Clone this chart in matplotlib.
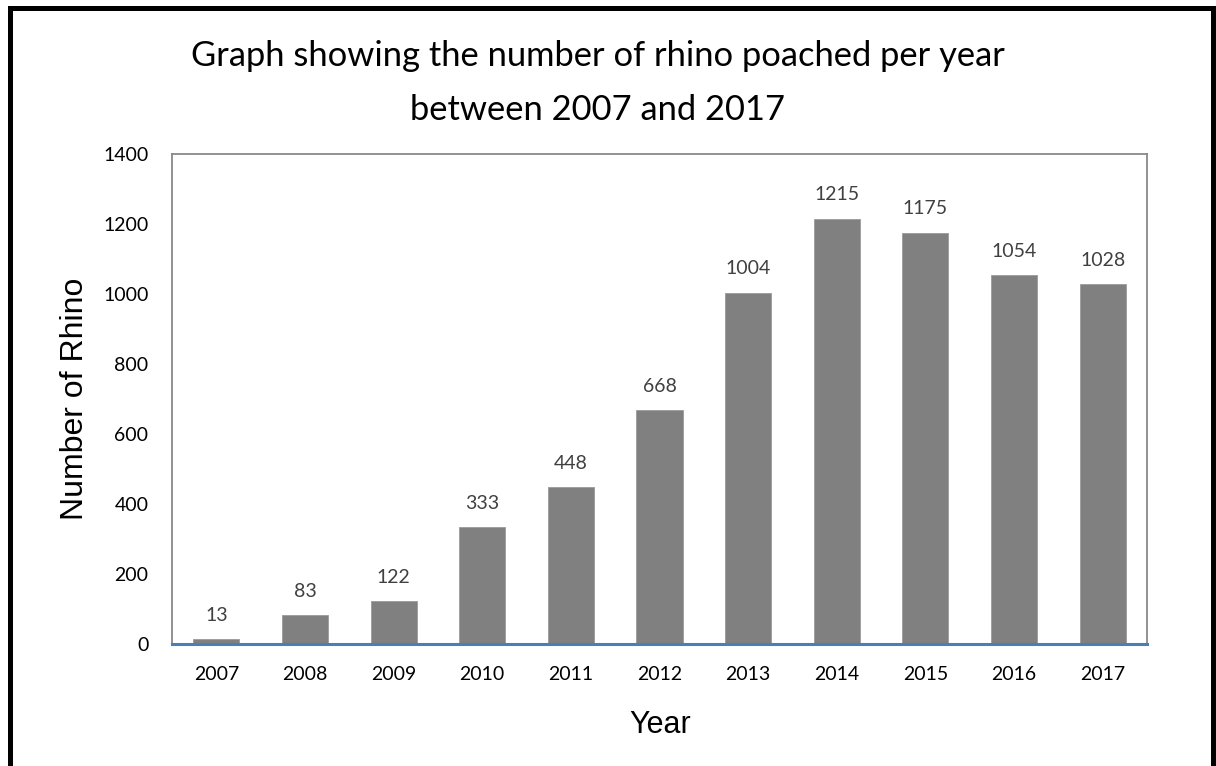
import numpy as np
from matplotlib import pyplot as plt
from matplotlib.lines import Line2D

years = ['2007', '2008', '2009', '2010', '2011', '2012', '2013', '2014', '2015', '2016', '2017']
poached = [13, 83, 122, 333, 448, 668, 1004, 1215, 1175, 1054, 1028]
yticks = [0, 200, 400, 600, 800, 1000, 1200, 1400]

W, H = 1216, 766
fig = plt.figure(figsize=(W / 100, H / 100), dpi=100, facecolor='w')
ax = fig.add_axes([172 / W, 1 - 644 / H, (1147 - 172) / W, (644 - 154) / H])

x = np.arange(len(years))
bars = ax.bar(x, poached, width=0.52, color='#808080', edgecolor='#9a9a9a', linewidth=0.6, zorder=2)

for xi, v in zip(x, poached):
    ax.annotate(str(v), (xi, v), xytext=(0, 11), textcoords='offset points',
                ha='center', va='bottom', fontsize=14, family='Lato', color='#404040')

ax.set_xlim(-0.5, len(years) - 0.5)
ax.set_ylim(0, 1400)
ax.set_xticks(x)
ax.set_xticklabels(years, fontsize=14, family='Lato')
ax.set_yticks(yticks)
ax.set_yticklabels([str(t) for t in yticks], fontsize=14, family='Lato')
ax.tick_params(axis='both', length=0)
ax.tick_params(axis='x', pad=16)
ax.tick_params(axis='y', pad=17)

for s in ['left', 'top', 'right']:
    ax.spines[s].set_color('#898989')
    ax.spines[s].set_linewidth(1.3)
ax.spines['bottom'].set_color('#4a7ebb')
ax.spines['bottom'].set_linewidth(2.2)
ax.spines['bottom'].set_zorder(3)

fig.text(75 / W, 1 - 399 / H, 'Number of Rhino', rotation=90, ha='center', va='center',
         fontsize=23, family='Liberation Sans')
fig.text(660 / W, 1 - 725 / H, 'Year', ha='center', va='center',
         fontsize=22, family='Liberation Sans')
fig.text(598 / W, 1 - 66 / H, 'Graph showing the number of rhino poached per year',
         ha='center', va='baseline', fontsize=24.8, family='Lato')
fig.text(598 / W, 1 - 120 / H, 'between 2007 and 2017',
         ha='center', va='baseline', fontsize=24.8, family='Lato')

# black frame (top, left, right)
lw = 3.6
fig.add_artist(Line2D([10 / W, 1213 / W], [1 - 8 / H, 1 - 8 / H], color='k', lw=lw, transform=fig.transFigure))
fig.add_artist(Line2D([10 / W, 10 / W], [1 - 8 / H, 0], color='k', lw=lw, transform=fig.transFigure))
fig.add_artist(Line2D([1213 / W, 1213 / W], [1 - 8 / H, 0], color='k', lw=lw, transform=fig.transFigure))

fig.savefig('out.png', dpi=100)
